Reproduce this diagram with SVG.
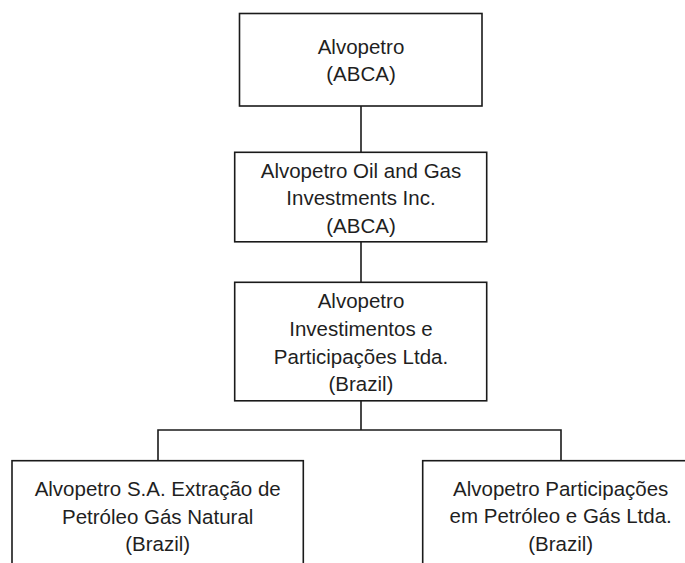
<svg xmlns="http://www.w3.org/2000/svg" width="685" height="563" viewBox="0 0 685 563">
<style>
.box{fill:#ffffff;stroke:#1a1a1a;stroke-width:1.6}
.conn{fill:none;stroke:#1a1a1a;stroke-width:1.6}
text{font-family:"Liberation Sans",Arial,sans-serif;font-size:20.5px;fill:#1f1f1f;text-anchor:middle}
</style>
<rect width="685" height="563" fill="#ffffff"/>
<g id="connectors">
<line class="conn" x1="361" y1="106" x2="361" y2="152"/>
<line class="conn" x1="361" y1="242" x2="361" y2="282"/>
<line class="conn" x1="361" y1="401" x2="361" y2="430"/>
<polyline class="conn" points="158,461 158,430 561,430 561,461"/>
</g>
<g id="node1">
<rect class="box" x="239.5" y="13.5" width="242.5" height="92.5"/>
<text x="361" y="53.5">Alvopetro</text>
<text x="361" y="81">(ABCA)</text>
</g>
<g id="node2">
<rect class="box" x="234.7" y="152.3" width="252" height="89.5"/>
<text x="361" y="177.5">Alvopetro Oil and Gas</text>
<text x="361" y="205">Investments Inc.</text>
<text x="361" y="232.5">(ABCA)</text>
</g>
<g id="node3">
<rect class="box" x="234.7" y="282.3" width="252" height="118.5"/>
<text x="361" y="308">Alvopetro</text>
<text x="361" y="336">Investimentos e</text>
<text x="361" y="363.5">Participações Ltda.</text>
<text x="361" y="391">(Brazil)</text>
</g>
<g id="node4">
<rect class="box" x="12" y="460.7" width="291.3" height="120"/>
<text x="157.7" y="496">Alvopetro S.A. Extração de</text>
<text x="157.7" y="523.5">Petróleo Gás Natural</text>
<text x="157.7" y="551">(Brazil)</text>
</g>
<g id="node5">
<rect class="box" x="422.7" y="460.7" width="276" height="120"/>
<text x="560.7" y="495.5">Alvopetro Participações</text>
<text x="560.7" y="523">em Petróleo e Gás Ltda.</text>
<text x="560.7" y="550.5">(Brazil)</text>
</g>
</svg>
